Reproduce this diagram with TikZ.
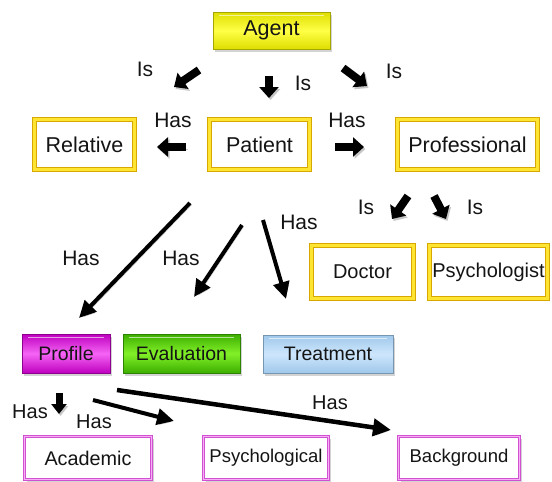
\documentclass[tikz,border=0pt]{standalone}
\usepackage{fontspec}
\setmainfont{Liberation Sans}
\usetikzlibrary{arrows.meta,shadows}
\definecolor{goldD}{RGB}{214,168,0}
\definecolor{goldL}{RGB}{255,228,50}
\definecolor{magD}{RGB}{210,80,210}
\definecolor{magL}{RGB}{245,175,245}
\definecolor{txt}{RGB}{20,20,20}
\definecolor{yelE}{RGB}{222,222,0}
\definecolor{yelC}{RGB}{255,255,70}
\definecolor{purE}{RGB}{190,0,190}
\definecolor{purC}{RGB}{245,100,245}
\definecolor{grnE}{RGB}{60,175,0}
\definecolor{grnC}{RGB}{130,240,40}
\definecolor{bluE}{RGB}{160,200,235}
\definecolor{bluC}{RGB}{205,230,252}
\begin{document}
\begin{tikzpicture}[x=1pt,y=-1pt,
  shade/.style={drop shadow={shadow xshift=2pt,shadow yshift=-2.5pt,opacity=.35}},
  ybox/.style={draw=goldD,line width=1pt,double=goldL,double distance=3pt,fill=white,shade,
    inner sep=0pt,text=txt,font=\fontsize{21.5}{24}\selectfont},
  ysmall/.style={ybox,font=\fontsize{20}{22}\selectfont},
  pbox/.style={draw=magD,line width=.9pt,double=magL,double distance=1.4pt,fill=white,shade,
    inner sep=0pt,text=txt,font=\fontsize{18.5}{21}\selectfont},
  gloss/.style={path picture={\draw[white,opacity=.6,line width=1.3pt]
    ([xshift=6pt,yshift=-3.5pt]path picture bounding box.north west) --
    ([xshift=-6pt,yshift=-3.5pt]path picture bounding box.north east);}},
  cbox/.style n args={3}{draw=#1!75!black,line width=.6pt,top color=#1,bottom color=#1,middle color=#2,
    shade,inner sep=0pt,text=txt,font=\fontsize{#3}{22}\selectfont,gloss},
  lbl/.style={inner sep=0pt,text=txt,font=\fontsize{21}{24}\selectfont},
  lbls/.style={inner sep=0pt,text=txt,font=\fontsize{20}{22}\selectfont},
  ashadow/.style={preaction={draw=black!22,transform canvas={shift={(1.5pt,-2pt)}}}},
  blk/.style={ashadow,line width=8pt,-{Triangle[width=19pt,length=11pt]}},
  lng/.style={ashadow,line width=4pt,-{Triangle[width=16pt,length=17pt]}},
  lngb/.style={ashadow,line width=4.5pt,-{Triangle[width=17pt,length=18pt]}}
]
\useasboundingbox (0,0) rectangle (552,482);

% nodes
\node[cbox={yelE}{yelC}{21.5},minimum width=117pt,minimum height=37pt] (agent) at (271.5,30.5) {Agent};
\node[ybox,minimum width=100pt,minimum height=50pt] (relative) at (84.5,144.5) {Relative};
\node[ybox,minimum width=100pt,minimum height=50pt] (patient) at (259.5,144.5) {Patient};
\node[ybox,minimum width=140pt,minimum height=50pt] (professional) at (467.5,144.5) {Professional};
\node[ysmall,minimum width=102pt,minimum height=53pt] (doctor) at (362.5,272) {Doctor};
\node[ysmall,minimum width=118pt,minimum height=53pt] (psychologist) at (488.5,272) {Psychologist};
\node[cbox={purE}{purC}{19.5},minimum width=88pt,minimum height=39pt] (profile) at (66,353.5) {Profile};
\node[cbox={grnE}{grnC}{19.5},minimum width=117pt,minimum height=39pt] (evaluation) at (181.5,353.5) {Evaluation};
\node[cbox={bluE}{bluC}{19.5},minimum width=130pt,minimum height=38pt] (treatment) at (328,354) {Treatment};
\node[pbox,font=\fontsize{19.8}{22}\selectfont,minimum width=127pt,minimum height=43pt] (academic) at (88,458) {Academic};
\node[pbox,minimum width=125pt,minimum height=43pt] (psychological) at (266,458) {Psychological};
\node[pbox,minimum width=121pt,minimum height=43pt] (background) at (459,458) {Background};

% labels
\node[lbl] (is1) at (145,69) {Is};
\node[lbl] (is2) at (303,83) {Is};
\node[lbl] (is3) at (394,71) {Is};
\node[lbl] (has1) at (173,120) {Has};
\node[lbl] (has2) at (347,120) {Has};
\node[lbl] (is4) at (366,207) {Is};
\node[lbl] (is5) at (475,207) {Is};
\node[lbl] (has3) at (81,258) {Has};
\node[lbl] (has4) at (181,258) {Has};
\node[lbl] (has5) at (299,222) {Has};
\node[lbls] (has6) at (30,412) {Has};
\node[lbls] (has7) at (94,422) {Has};
\node[lbls] (has8) at (330,403) {Has};

% arrow end points
\coordinate (a1s) at (199,70);  \coordinate (a1e) at (174,87);
\coordinate (a2s) at (269,76);  \coordinate (a2e) at (269,98);
\coordinate (a3s) at (343,68);  \coordinate (a3e) at (367,86);
\coordinate (a4s) at (186,147); \coordinate (a4e) at (157,147);
\coordinate (a5s) at (335,147); \coordinate (a5e) at (364,147);
\coordinate (a6s) at (408,196); \coordinate (a6e) at (392,219);
\coordinate (a7s) at (434,196); \coordinate (a7e) at (446,219);
\coordinate (a8s) at (190,203); \coordinate (a8e) at (79,318);
\coordinate (a9s) at (242,225); \coordinate (a9e) at (194,297);
\coordinate (a10s) at (263,220); \coordinate (a10e) at (286,299);
\coordinate (a11s) at (59,393); \coordinate (a11e) at (59,414);
\coordinate (a12s) at (93,400); \coordinate (a12e) at (174,421);
\coordinate (a13s) at (117,390); \coordinate (a13e) at (391,430);

% arrows
\draw[blk] (a1s) -- (a1e);
\draw[blk] (a2s) -- (a2e);
\draw[blk] (a3s) -- (a3e);
\draw[blk] (a4s) -- (a4e);
\draw[blk] (a5s) -- (a5e);
\draw[blk] (a6s) -- (a6e);
\draw[blk] (a7s) -- (a7e);
\draw[lng] (a8s) -- (a8e);
\draw[lng] (a9s) -- (a9e);
\draw[lng] (a10s) -- (a10e);
\draw[ashadow,line width=7pt,-{Triangle[width=15pt,length=10pt]}] (a11s) -- (a11e);
\draw[lng] (a12s) -- (a12e);
\draw[lngb] (a13s) -- (a13e);
\end{tikzpicture}
\end{document}
